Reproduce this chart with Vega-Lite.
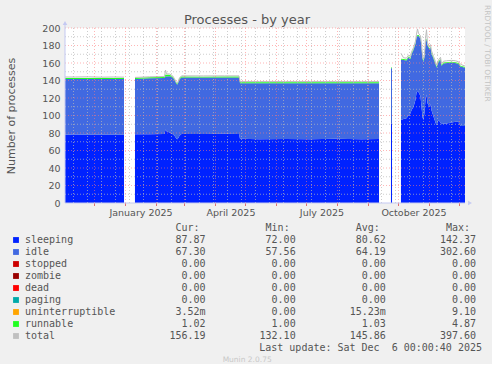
{
  "$schema": "https://vega.github.io/schema/vega-lite/v6.json",
  "background": "#f0f0f0",
  "padding": {"left": 5, "top": 5, "right": 0, "bottom": 0},
  "spacing": 6,
  "config": {
    "view": {"stroke": null},
    "font": "DejaVu Sans",
    "legend": {"disable": true},
    "axisX": {"ticks": false, "grid": false, "domain": false, "labelFontSize": 9.5, "labelColor": "#555555", "labelPadding": 4.5, "labelFlush": false, "labelOverlap": false},
    "axisY": {"ticks": false, "grid": false, "domain": false, "labelFontSize": 9.5, "labelColor": "#555555", "labelPadding": 5, "labelFlush": false, "labelOverlap": false, "titleFontSize": 11, "titleFontWeight": "normal", "titleColor": "#555555", "titlePadding": 25}
  },
  "datasets": {
    "main": [
      {"t": "2024-11-01T00:00:00Z", "sleeping": 78, "idle": 63.8, "runnable": 1.2, "total": 144},
      {"t": "2024-11-12T00:00:00Z", "sleeping": 78.2, "idle": 63.6, "runnable": 1.2, "total": 144},
      {"t": "2024-11-25T00:00:00Z", "sleeping": 78, "idle": 63.8, "runnable": 1.2, "total": 144.2},
      {"t": "2024-12-08T00:00:00Z", "sleeping": 78, "idle": 63.7, "runnable": 1.1, "total": 143.8},
      {"t": "2024-12-20T00:00:00Z", "sleeping": 78.1, "idle": 63.7, "runnable": 1.1, "total": 144},
      {"t": "2024-12-30T12:00:00Z", "sleeping": 78, "idle": 63.7, "runnable": 1.1, "total": 143.8},
      {"t": "2024-12-30T13:00:00Z", "sleeping": null, "idle": null, "runnable": null, "total": null},
      {"t": "2025-01-10T11:00:00Z", "sleeping": null, "idle": null, "runnable": null, "total": null},
      {"t": "2025-01-10T12:00:00Z", "sleeping": 78.5, "idle": 63.3, "runnable": 1, "total": 143.5},
      {"t": "2025-01-25T00:00:00Z", "sleeping": 78.6, "idle": 64, "runnable": 1, "total": 144.2},
      {"t": "2025-02-09T00:00:00Z", "sleeping": 78.8, "idle": 64.2, "runnable": 1, "total": 144.5},
      {"t": "2025-02-10T00:00:00Z", "sleeping": 84, "idle": 61, "runnable": 2, "total": 152},
      {"t": "2025-02-11T00:00:00Z", "sleeping": 82, "idle": 62.5, "runnable": 2, "total": 147.5},
      {"t": "2025-02-14T00:00:00Z", "sleeping": 80.5, "idle": 64.5, "runnable": 1.5, "total": 147.5},
      {"t": "2025-02-17T00:00:00Z", "sleeping": 79, "idle": 64.5, "runnable": 1, "total": 145.5},
      {"t": "2025-02-19T00:00:00Z", "sleeping": 77, "idle": 63.5, "runnable": 1, "total": 142},
      {"t": "2025-02-21T00:00:00Z", "sleeping": 73.5, "idle": 62.5, "runnable": 1, "total": 137.5},
      {"t": "2025-02-22T00:00:00Z", "sleeping": 73, "idle": 62.5, "runnable": 1, "total": 137},
      {"t": "2025-02-24T00:00:00Z", "sleeping": 77, "idle": 64.5, "runnable": 1, "total": 143},
      {"t": "2025-02-26T00:00:00Z", "sleeping": 79, "idle": 64.5, "runnable": 1, "total": 145.3},
      {"t": "2025-03-20T00:00:00Z", "sleeping": 79, "idle": 64.4, "runnable": 1, "total": 145.2},
      {"t": "2025-04-10T00:00:00Z", "sleeping": 79.2, "idle": 64.3, "runnable": 1, "total": 145.3},
      {"t": "2025-04-24T12:00:00Z", "sleeping": 79, "idle": 64.5, "runnable": 1, "total": 145.3},
      {"t": "2025-04-25T12:00:00Z", "sleeping": 73.5, "idle": 63.5, "runnable": 1, "total": 138.8},
      {"t": "2025-05-15T00:00:00Z", "sleeping": 73, "idle": 64, "runnable": 1, "total": 138.8},
      {"t": "2025-06-10T00:00:00Z", "sleeping": 73.2, "idle": 63.8, "runnable": 1, "total": 138.8},
      {"t": "2025-07-05T00:00:00Z", "sleeping": 73, "idle": 64, "runnable": 1, "total": 138.8},
      {"t": "2025-07-30T00:00:00Z", "sleeping": 73.3, "idle": 63.7, "runnable": 1, "total": 138.8},
      {"t": "2025-08-25T00:00:00Z", "sleeping": 73, "idle": 64, "runnable": 1, "total": 138.8},
      {"t": "2025-09-11T12:00:00Z", "sleeping": 73.2, "idle": 63.8, "runnable": 1, "total": 138.8},
      {"t": "2025-09-11T13:00:00Z", "sleeping": null, "idle": null, "runnable": null, "total": null},
      {"t": "2025-09-23T11:00:00Z", "sleeping": null, "idle": null, "runnable": null, "total": null},
      {"t": "2025-09-23T12:00:00Z", "sleeping": 91, "idle": 63, "runnable": 1, "total": 170},
      {"t": "2025-09-24T12:00:00Z", "sleeping": 91, "idle": 63, "runnable": 1, "total": 170},
      {"t": "2025-09-24T13:00:00Z", "sleeping": null, "idle": null, "runnable": null, "total": null},
      {"t": "2025-10-03T11:00:00Z", "sleeping": null, "idle": null, "runnable": null, "total": null},
      {"t": "2025-10-03T12:00:00Z", "sleeping": 95, "idle": 69, "runnable": 1, "total": 171},
      {"t": "2025-10-06T00:00:00Z", "sleeping": 96, "idle": 67.5, "runnable": 1, "total": 166},
      {"t": "2025-10-09T00:00:00Z", "sleeping": 97, "idle": 66, "runnable": 1, "total": 165.5},
      {"t": "2025-10-11T00:00:00Z", "sleeping": 100, "idle": 66.5, "runnable": 1, "total": 169},
      {"t": "2025-10-13T00:00:00Z", "sleeping": 102.5, "idle": 62.2, "runnable": 1, "total": 167},
      {"t": "2025-10-14T00:00:00Z", "sleeping": 106, "idle": 64, "runnable": 1, "total": 172.5},
      {"t": "2025-10-16T00:00:00Z", "sleeping": 110, "idle": 65, "runnable": 1, "total": 177.5},
      {"t": "2025-10-18T00:00:00Z", "sleeping": 118, "idle": 64, "runnable": 1, "total": 185},
      {"t": "2025-10-19T00:00:00Z", "sleeping": 126, "idle": 63, "runnable": 1, "total": 193},
      {"t": "2025-10-20T00:00:00Z", "sleeping": 128, "idle": 63, "runnable": 1, "total": 199},
      {"t": "2025-10-21T00:00:00Z", "sleeping": 127, "idle": 64, "runnable": 1, "total": 194},
      {"t": "2025-10-23T00:00:00Z", "sleeping": 122, "idle": 66, "runnable": 1, "total": 191},
      {"t": "2025-10-24T00:00:00Z", "sleeping": 110, "idle": 69, "runnable": 1, "total": 182},
      {"t": "2025-10-25T00:00:00Z", "sleeping": 98, "idle": 67, "runnable": 1, "total": 168},
      {"t": "2025-10-26T00:00:00Z", "sleeping": 95, "idle": 67, "runnable": 1, "total": 164.5},
      {"t": "2025-10-27T00:00:00Z", "sleeping": 104, "idle": 63, "runnable": 1, "total": 170},
      {"t": "2025-10-28T00:00:00Z", "sleeping": 118, "idle": 66, "runnable": 1, "total": 188},
      {"t": "2025-10-29T00:00:00Z", "sleeping": 124, "idle": 63, "runnable": 1, "total": 198},
      {"t": "2025-10-30T00:00:00Z", "sleeping": 114, "idle": 66, "runnable": 1, "total": 183},
      {"t": "2025-11-01T00:00:00Z", "sleeping": 110, "idle": 66, "runnable": 1, "total": 179},
      {"t": "2025-11-02T00:00:00Z", "sleeping": 113, "idle": 65, "runnable": 1, "total": 181},
      {"t": "2025-11-03T00:00:00Z", "sleeping": 106, "idle": 65, "runnable": 1, "total": 174},
      {"t": "2025-11-05T00:00:00Z", "sleeping": 99, "idle": 66, "runnable": 1, "total": 167.5},
      {"t": "2025-11-07T00:00:00Z", "sleeping": 92, "idle": 67, "runnable": 1, "total": 161.5},
      {"t": "2025-11-08T00:00:00Z", "sleeping": 89, "idle": 66, "runnable": 1, "total": 157.5},
      {"t": "2025-11-10T00:00:00Z", "sleeping": 95, "idle": 66, "runnable": 1, "total": 163.5},
      {"t": "2025-11-12T00:00:00Z", "sleeping": 92, "idle": 72, "runnable": 1, "total": 166.5},
      {"t": "2025-11-13T00:00:00Z", "sleeping": 90, "idle": 67, "runnable": 1, "total": 159.5},
      {"t": "2025-11-15T00:00:00Z", "sleeping": 91, "idle": 68.5, "runnable": 1, "total": 162},
      {"t": "2025-11-18T00:00:00Z", "sleeping": 91, "idle": 69, "runnable": 1, "total": 162.5},
      {"t": "2025-11-23T00:00:00Z", "sleeping": 92, "idle": 68.5, "runnable": 1, "total": 163},
      {"t": "2025-11-27T00:00:00Z", "sleeping": 93, "idle": 67, "runnable": 1, "total": 162.5},
      {"t": "2025-11-30T00:00:00Z", "sleeping": 93, "idle": 66, "runnable": 1, "total": 161.5},
      {"t": "2025-12-02T00:00:00Z", "sleeping": 88, "idle": 68, "runnable": 1, "total": 158.5},
      {"t": "2025-12-06T12:00:00Z", "sleeping": 88, "idle": 66.5, "runnable": 1, "total": 156.5}
    ],
    "stats": [
      {"n": 1, "series": "sleeping", "cur": "87.87", "min": "72.00", "avg": "80.62", "max": "142.37"},
      {"n": 2, "series": "idle", "cur": "67.30", "min": "57.56", "avg": "64.19", "max": "302.60"},
      {"n": 3, "series": "stopped", "cur": "0.00", "min": "0.00", "avg": "0.00", "max": "0.00"},
      {"n": 4, "series": "zombie", "cur": "0.00", "min": "0.00", "avg": "0.00", "max": "0.00"},
      {"n": 5, "series": "dead", "cur": "0.00", "min": "0.00", "avg": "0.00", "max": "0.00"},
      {"n": 6, "series": "paging", "cur": "0.00", "min": "0.00", "avg": "0.00", "max": "0.00"},
      {"n": 7, "series": "uninterruptible", "cur": "3.52m", "min": "0.00", "avg": "15.23m", "max": "9.10"},
      {"n": 8, "series": "runnable", "cur": "1.02", "min": "1.00", "avg": "1.03", "max": "4.87"},
      {"n": 9, "series": "total", "cur": "156.19", "min": "132.10", "avg": "145.86", "max": "397.60"}
    ],
    "months": [
      {"t": "2024-12-01T00:00:00Z"}, {"t": "2025-01-01T00:00:00Z"}, {"t": "2025-02-01T00:00:00Z"},
      {"t": "2025-03-01T00:00:00Z"}, {"t": "2025-04-01T00:00:00Z"}, {"t": "2025-05-01T00:00:00Z"},
      {"t": "2025-06-01T00:00:00Z"}, {"t": "2025-07-01T00:00:00Z"}, {"t": "2025-08-01T00:00:00Z"},
      {"t": "2025-09-01T00:00:00Z"}, {"t": "2025-10-01T00:00:00Z"}, {"t": "2025-11-01T00:00:00Z"},
      {"t": "2025-12-01T00:00:00Z"}
    ],
    "fortnights": [
      {"t": "2024-11-10T00:00:00Z"}, {"t": "2024-11-24T00:00:00Z"}, {"t": "2024-12-08T00:00:00Z"},
      {"t": "2024-12-22T00:00:00Z"}, {"t": "2025-01-05T00:00:00Z"}, {"t": "2025-01-19T00:00:00Z"},
      {"t": "2025-02-02T00:00:00Z"}, {"t": "2025-02-16T00:00:00Z"}, {"t": "2025-03-02T00:00:00Z"},
      {"t": "2025-03-16T00:00:00Z"}, {"t": "2025-03-30T00:00:00Z"}, {"t": "2025-04-13T00:00:00Z"},
      {"t": "2025-04-27T00:00:00Z"}, {"t": "2025-05-11T00:00:00Z"}, {"t": "2025-05-25T00:00:00Z"},
      {"t": "2025-06-08T00:00:00Z"}, {"t": "2025-06-22T00:00:00Z"}, {"t": "2025-07-06T00:00:00Z"},
      {"t": "2025-07-20T00:00:00Z"}, {"t": "2025-08-03T00:00:00Z"}, {"t": "2025-08-17T00:00:00Z"},
      {"t": "2025-08-31T00:00:00Z"}, {"t": "2025-09-14T00:00:00Z"}, {"t": "2025-09-28T00:00:00Z"},
      {"t": "2025-10-12T00:00:00Z"}, {"t": "2025-10-26T00:00:00Z"}, {"t": "2025-11-09T00:00:00Z"},
      {"t": "2025-11-23T00:00:00Z"}
    ],
    "hmajor": [{"v": 20}, {"v": 40}, {"v": 60}, {"v": 80}, {"v": 100}, {"v": 120}, {"v": 140}, {"v": 160}, {"v": 180}, {"v": 200}],
    "hminor": [{"v": 10}, {"v": 30}, {"v": 50}, {"v": 70}, {"v": 90}, {"v": 110}, {"v": 130}, {"v": 150}, {"v": 170}, {"v": 190}]
  },
  "vconcat": [
    {
      "width": 400,
      "height": 175,
      "view": {"fill": "#ffffff", "stroke": null},
      "layer": [
        {
          "data": {"name": "main"},
          "transform": [
            {"fold": ["sleeping", "idle", "runnable"], "as": ["series", "value"]},
            {"lookup": "series", "from": {"data": {"name": "stats"}, "key": "series", "fields": ["n"]}}
          ],
          "mark": {"type": "area", "interpolate": "linear", "invalid": "show", "clip": true},
          "encoding": {
            "x": {
              "field": "t", "type": "temporal", "title": null,
              "scale": {"type": "utc", "domain": [{"year": 2024, "month": 11, "date": 1, "hours": 12, "utc": true}, {"year": 2025, "month": 12, "date": 6, "hours": 12, "utc": true}]},
              "axis": {"values": [{"year": 2025, "month": 1, "date": 16, "utc": true}, {"year": 2025, "month": 4, "date": 16, "utc": true}, {"year": 2025, "month": 7, "date": 16, "utc": true}, {"year": 2025, "month": 10, "date": 16, "utc": true}], "labelExpr": "utcFormat(datum.value, '%B %Y')"}
            },
            "y": {
              "field": "value", "type": "quantitative", "stack": "zero", "title": "Number of processes",
              "scale": {"domain": [0, 200], "nice": false},
              "axis": {"values": [0, 20, 40, 60, 80, 100, 120, 140, 160, 180, 200]}
            },
            "color": {
              "field": "series", "type": "nominal",
              "scale": {"domain": ["sleeping", "idle", "stopped", "zombie", "dead", "paging", "uninterruptible", "runnable", "total"], "range": ["#0022ff", "#4169e1", "#cc0000", "#990000", "#ff0000", "#00aaaa", "#ffa500", "#22ff22", "#c0c0c0"]},
              "legend": null
            },
            "order": {"field": "n", "type": "quantitative", "sort": "ascending"}
          }
        },
        {
          "data": {"name": "main"},
          "mark": {"type": "line", "stroke": "#bcbcbc", "strokeWidth": 1, "invalid": "break-paths-filter-domains", "clip": true},
          "encoding": {
            "x": {"field": "t", "type": "temporal", "title": null, "axis": {"values": [{"year": 2025, "month": 1, "date": 16, "utc": true}, {"year": 2025, "month": 4, "date": 16, "utc": true}, {"year": 2025, "month": 7, "date": 16, "utc": true}, {"year": 2025, "month": 10, "date": 16, "utc": true}], "labelExpr": "utcFormat(datum.value, '%B %Y')"}},
            "y": {"field": "total", "type": "quantitative", "title": "Number of processes", "axis": {"values": [0, 20, 40, 60, 80, 100, 120, 140, 160, 180, 200]}}
          }
        },
        {
          "data": {"name": "hminor"},
          "mark": {"type": "rule", "stroke": "#b8b8b8", "strokeOpacity": 0.7, "strokeDash": [1, 2]},
          "encoding": {"y": {"field": "v", "type": "quantitative", "title": "Number of processes", "axis": {"values": [0, 20, 40, 60, 80, 100, 120, 140, 160, 180, 200]}}}
        },
        {
          "data": {"name": "fortnights"},
          "mark": {"type": "rule", "stroke": "#b8b8b8", "strokeOpacity": 0.7, "strokeDash": [1, 2]},
          "encoding": {"x": {"field": "t", "type": "temporal", "title": null, "axis": {"values": [{"year": 2025, "month": 1, "date": 16, "utc": true}, {"year": 2025, "month": 4, "date": 16, "utc": true}, {"year": 2025, "month": 7, "date": 16, "utc": true}, {"year": 2025, "month": 10, "date": 16, "utc": true}], "labelExpr": "utcFormat(datum.value, '%B %Y')"}}}
        },
        {
          "data": {"name": "hmajor"},
          "mark": {"type": "rule", "stroke": "#ff7a7a", "strokeOpacity": 0.55, "strokeDash": [1, 2]},
          "encoding": {"y": {"field": "v", "type": "quantitative", "title": "Number of processes", "axis": {"values": [0, 20, 40, 60, 80, 100, 120, 140, 160, 180, 200]}}}
        },
        {
          "data": {"name": "months"},
          "mark": {"type": "rule", "stroke": "#ff7a7a", "strokeOpacity": 0.55, "strokeDash": [1, 2]},
          "encoding": {"x": {"field": "t", "type": "temporal", "title": null, "axis": {"values": [{"year": 2025, "month": 1, "date": 16, "utc": true}, {"year": 2025, "month": 4, "date": 16, "utc": true}, {"year": 2025, "month": 7, "date": 16, "utc": true}, {"year": 2025, "month": 10, "date": 16, "utc": true}], "labelExpr": "utcFormat(datum.value, '%B %Y')"}}}
        },
        {
          "data": {"name": "months"},
          "mark": {"type": "rule", "stroke": "#e07070", "y2Offset": 3, "clip": false},
          "encoding": {
            "x": {"field": "t", "type": "temporal", "title": null, "axis": {"values": [{"year": 2025, "month": 1, "date": 16, "utc": true}, {"year": 2025, "month": 4, "date": 16, "utc": true}, {"year": 2025, "month": 7, "date": 16, "utc": true}, {"year": 2025, "month": 10, "date": 16, "utc": true}], "labelExpr": "utcFormat(datum.value, '%B %Y')"}},
            "y": {"datum": 0, "type": "quantitative", "title": "Number of processes", "axis": {"values": [0, 20, 40, 60, 80, 100, 120, 140, 160, 180, 200]}},
            "y2": {"datum": 0}
          }
        },
        {
          "data": {"values": [{}]},
          "mark": {"type": "rule", "stroke": "#c4c9f2", "strokeWidth": 1, "clip": false},
          "encoding": {"y": {"datum": 0, "type": "quantitative", "title": "Number of processes", "axis": {"values": [0, 20, 40, 60, 80, 100, 120, 140, 160, 180, 200]}}}
        },
        {
          "data": {"values": [{}]},
          "mark": {"type": "rule", "stroke": "#c4c9f2", "strokeWidth": 1, "clip": false, "y2Offset": -4},
          "encoding": {
            "x": {"datum": {"year": 2024, "month": 11, "date": 1, "hours": 12, "utc": true}, "type": "temporal", "title": null, "axis": {"values": [{"year": 2025, "month": 1, "date": 16, "utc": true}, {"year": 2025, "month": 4, "date": 16, "utc": true}, {"year": 2025, "month": 7, "date": 16, "utc": true}, {"year": 2025, "month": 10, "date": 16, "utc": true}], "labelExpr": "utcFormat(datum.value, '%B %Y')"}},
            "y": {"datum": 0, "type": "quantitative", "title": "Number of processes", "axis": {"values": [0, 20, 40, 60, 80, 100, 120, 140, 160, 180, 200]}},
            "y2": {"datum": 200}
          }
        },
        {
          "data": {"values": [{}]},
          "mark": {"type": "point", "shape": "triangle-up", "filled": true, "size": 20, "color": "#c4c9f2", "opacity": 1, "yOffset": -5, "clip": false},
          "encoding": {
            "x": {"datum": {"year": 2024, "month": 11, "date": 1, "hours": 12, "utc": true}, "type": "temporal", "title": null, "axis": {"values": [{"year": 2025, "month": 1, "date": 16, "utc": true}, {"year": 2025, "month": 4, "date": 16, "utc": true}, {"year": 2025, "month": 7, "date": 16, "utc": true}, {"year": 2025, "month": 10, "date": 16, "utc": true}], "labelExpr": "utcFormat(datum.value, '%B %Y')"}},
            "y": {"datum": 200, "type": "quantitative", "title": "Number of processes", "axis": {"values": [0, 20, 40, 60, 80, 100, 120, 140, 160, 180, 200]}}
          }
        },
        {
          "data": {"values": [{}]},
          "mark": {"type": "point", "shape": "triangle-right", "filled": true, "size": 20, "color": "#c4c9f2", "opacity": 1, "xOffset": 5, "clip": false},
          "encoding": {
            "x": {"datum": {"year": 2025, "month": 12, "date": 6, "hours": 12, "utc": true}, "type": "temporal", "title": null, "axis": {"values": [{"year": 2025, "month": 1, "date": 16, "utc": true}, {"year": 2025, "month": 4, "date": 16, "utc": true}, {"year": 2025, "month": 7, "date": 16, "utc": true}, {"year": 2025, "month": 10, "date": 16, "utc": true}], "labelExpr": "utcFormat(datum.value, '%B %Y')"}},
            "y": {"datum": 0, "type": "quantitative", "title": "Number of processes", "axis": {"values": [0, 20, 40, 60, 80, 100, 120, 140, 160, 180, 200]}}
          }
        },
        {
          "data": {"values": [{}]},
          "mark": {"type": "text", "text": "Processes - by year", "fontSize": 13, "color": "#555555", "align": "center", "baseline": "alphabetic", "xOffset": -18, "yOffset": -4.3},
          "encoding": {"y": {"datum": 200, "type": "quantitative", "title": "Number of processes", "axis": {"values": [0, 20, 40, 60, 80, 100, 120, 140, 160, 180, 200]}}}
        },
        {
          "data": {"values": [{}]},
          "mark": {"type": "text", "text": "RRDTOOL / TOBI OETIKER", "fontSize": 7.5, "color": "#c4c4c4", "angle": 90, "align": "left", "baseline": "middle", "xOffset": 22, "yOffset": -23},
          "encoding": {
            "x": {"datum": {"year": 2025, "month": 12, "date": 6, "hours": 12, "utc": true}, "type": "temporal", "title": null, "axis": {"values": [{"year": 2025, "month": 1, "date": 16, "utc": true}, {"year": 2025, "month": 4, "date": 16, "utc": true}, {"year": 2025, "month": 7, "date": 16, "utc": true}, {"year": 2025, "month": 10, "date": 16, "utc": true}], "labelExpr": "utcFormat(datum.value, '%B %Y')"}},
            "y": {"datum": 200, "type": "quantitative", "title": "Number of processes", "axis": {"values": [0, 20, 40, 60, 80, 100, 120, 140, 160, 180, 200]}}
          }
        }
      ]
    },
    {
      "width": 400,
      "height": 132,
      "view": {"stroke": null},
      "data": {"name": "stats"},
      "layer": [
        {
          "mark": {"type": "square", "size": 34, "opacity": 1, "xOffset": -189.5},
          "encoding": {
            "x": {"datum": "cur", "type": "nominal", "scale": {"type": "point", "domain": ["cur", "min", "avg", "max"], "range": [140.5, 411], "padding": 0}, "axis": null},
            "y": {"field": "series", "type": "nominal", "scale": {"type": "point", "domain": ["hdr", "sleeping", "idle", "stopped", "zombie", "dead", "paging", "uninterruptible", "runnable", "total", "update", "munin"], "range": [0, 132], "padding": 0}, "axis": null},
            "color": {
              "field": "series", "type": "nominal",
              "scale": {"domain": ["sleeping", "idle", "stopped", "zombie", "dead", "paging", "uninterruptible", "runnable", "total"], "range": ["#0022ff", "#4169e1", "#cc0000", "#990000", "#ff0000", "#00aaaa", "#ffa500", "#22ff22", "#c0c0c0"]},
              "legend": null
            }
          }
        },
        {
          "mark": {"type": "text", "align": "left", "baseline": "middle", "font": "DejaVu Sans Mono", "fontSize": 10, "color": "#555555", "xOffset": -180.5},
          "encoding": {
            "x": {"datum": "cur", "type": "nominal", "axis": null},
            "y": {"field": "series", "type": "nominal", "axis": null},
            "text": {"field": "series"}
          }
        },
        {
          "transform": [{"fold": ["cur", "min", "avg", "max"], "as": ["key", "val"]}],
          "mark": {"type": "text", "align": "right", "baseline": "middle", "font": "DejaVu Sans Mono", "fontSize": 10, "color": "#555555"},
          "encoding": {
            "x": {"field": "key", "type": "nominal", "axis": null},
            "y": {"field": "series", "type": "nominal", "axis": null},
            "text": {"field": "val"}
          }
        },
        {
          "data": {"values": [{"key": "cur", "h": "Cur:"}, {"key": "min", "h": "Min:"}, {"key": "avg", "h": "Avg:"}, {"key": "max", "h": "Max:"}]},
          "mark": {"type": "text", "align": "right", "baseline": "middle", "font": "DejaVu Sans Mono", "fontSize": 10, "color": "#555555", "xOffset": -6},
          "encoding": {
            "x": {"field": "key", "type": "nominal", "axis": null},
            "y": {"datum": "hdr", "type": "nominal", "axis": null},
            "text": {"field": "h"}
          }
        },
        {
          "data": {"values": [{"s": "Last update: Sat Dec \u00a06 00:00:40 2025"}]},
          "mark": {"type": "text", "align": "right", "baseline": "middle", "font": "DejaVu Sans Mono", "fontSize": 10, "color": "#555555", "xOffset": 6},
          "encoding": {
            "x": {"datum": "max", "type": "nominal", "axis": null},
            "y": {"datum": "update", "type": "nominal", "axis": null},
            "text": {"field": "s"}
          }
        },
        {
          "data": {"values": [{"s": "Munin 2.0.75"}]},
          "mark": {"type": "text", "align": "center", "baseline": "middle", "font": "DejaVu Sans", "fontSize": 7.5, "color": "#c8c8c8", "xOffset": -48.5},
          "encoding": {
            "x": {"datum": "min", "type": "nominal", "axis": null},
            "y": {"datum": "munin", "type": "nominal", "axis": null},
            "text": {"field": "s"}
          }
        }
      ]
    }
  ]
}
